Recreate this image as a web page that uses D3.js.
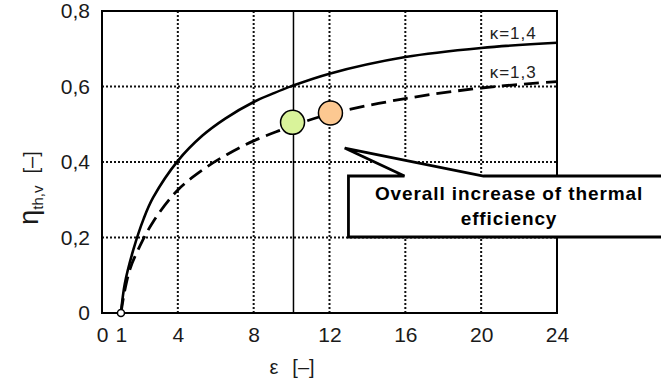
<!DOCTYPE html>
<html>
<head>
<meta charset="utf-8">
<script src="https://cdn.jsdelivr.net/npm/d3@7"></script>
<style>
  body { margin: 0; background: #fff; }
  svg { display: block; font-family: "Liberation Sans", Arial, sans-serif; }
</style>
</head>
<body>
<svg id="chart" width="661" height="383"></svg>
<script>
// compression ratio vs. thermal efficiency
const epsK14 = [1, 1.2, 1.65, 2.2, 2.7, 4, 5.3, 6.5, 8, 9, 10, 12, 16, 20, 24];
const etaK14 = [0, 0.077, 0.167, 0.25, 0.306, 0.403, 0.47, 0.515, 0.559, 0.581, 0.601, 0.634, 0.678, 0.702, 0.716];
const epsK13 = [1, 1.2, 1.5, 1.9, 2.7, 4, 5.3, 6.6, 8, 9.4, 10, 12, 16, 20, 24];
const etaK13 = [0, 0.06, 0.12, 0.167, 0.242, 0.326, 0.379, 0.42, 0.456, 0.484, 0.495, 0.527, 0.568, 0.596, 0.613];

const xTicks = [0, 1, 4, 8, 12, 16, 20, 24];
const xGrid = [4, 8, 12, 16, 20];
const yTicks = [0, 0.2, 0.4, 0.6, 0.8];
const yGrid = [0.2, 0.4, 0.6];

// highlighted operating points
const points = [
  { eps: 10.05, eta: 0.505, color: "#d9f39a" },
  { eps: 12.05, eta: 0.53, color: "#fcc891" }
];

const svg = d3.select("#chart");
const plotLeft = 102, plotRight = 557, plotTop = 11, plotBottom = 313;

const x = d3.scaleLinear().domain([0, 24]).range([plotLeft, plotRight]);
const y = d3.scaleLinear().domain([0, 0.8]).range([plotBottom, plotTop]);

// dotted grid
svg.append("g").selectAll("line")
  .data(xGrid)
  .enter().append("line")
  .attr("x1", d => x(d)).attr("x2", d => x(d))
  .attr("y1", plotTop).attr("y2", plotBottom)
  .attr("stroke", "#111").attr("stroke-width", 2)
  .attr("stroke-dasharray", "2,2");

svg.append("g").selectAll("line")
  .data(yGrid)
  .enter().append("line")
  .attr("x1", plotLeft).attr("x2", plotRight)
  .attr("y1", d => y(d)).attr("y2", d => y(d))
  .attr("stroke", "#111").attr("stroke-width", 2)
  .attr("stroke-dasharray", "2,2");

// solid marker line at eps = 10
svg.append("line")
  .attr("x1", x(10.1)).attr("x2", x(10.1))
  .attr("y1", plotTop).attr("y2", plotBottom)
  .attr("stroke", "#000").attr("stroke-width", 1.5);

// frame
svg.append("rect")
  .attr("x", plotLeft).attr("y", plotTop)
  .attr("width", plotRight - plotLeft).attr("height", plotBottom - plotTop)
  .attr("fill", "none").attr("stroke", "#000").attr("stroke-width", 2);

// axes labels (no tick marks in the original)
const xAxis = d3.axisBottom(x).tickValues(xTicks).tickSize(0).tickPadding(14);
svg.append("g")
  .attr("transform", "translate(0," + plotBottom + ")")
  .call(xAxis)
  .call(g => g.select(".domain").remove())
  .selectAll("text")
  .attr("font-size", 21).attr("font-family", "Liberation Sans, Arial, sans-serif")
  .attr("fill", "#1a1a1a");

const yAxis = d3.axisLeft(y).tickValues(yTicks).tickSize(0).tickPadding(12)
  .tickFormat(d => d === 0 ? "0" : d3.format(".1f")(d).replace(".", ","));
svg.append("g")
  .attr("transform", "translate(" + plotLeft + ",0)")
  .call(yAxis)
  .call(g => g.select(".domain").remove())
  .selectAll("text")
  .attr("font-size", 21).attr("font-family", "Liberation Sans, Arial, sans-serif")
  .attr("fill", "#1a1a1a");

// curves
const line = d3.line()
  .x(d => x(d[0]))
  .y(d => y(d[1]))
  .curve(d3.curveCatmullRom.alpha(0.5));

svg.append("path")
  .datum(d3.zip(epsK14, etaK14))
  .attr("d", line)
  .attr("fill", "none").attr("stroke", "#000").attr("stroke-width", 2.6);

svg.append("path")
  .datum(d3.zip(epsK13, etaK13))
  .attr("d", line)
  .attr("fill", "none").attr("stroke", "#000").attr("stroke-width", 2.8)
  .attr("stroke-dasharray", "15,7");

// open start point
svg.append("circle")
  .attr("cx", x(1)).attr("cy", y(0)).attr("r", 3.5)
  .attr("fill", "#fff").attr("stroke", "#000").attr("stroke-width", 1.5);

// curve labels
svg.append("text")
  .attr("x", x(20.45)).attr("y", y(0.726))
  .attr("font-size", 17).attr("letter-spacing", 1).attr("fill", "#222")
  .text("κ=1,4");
svg.append("text")
  .attr("x", x(20.45)).attr("y", y(0.622))
  .attr("font-size", 17).attr("letter-spacing", 1).attr("fill", "#222")
  .text("κ=1,3");

// callout box with pointer
const tipX = x(12.8), tipY = y(0.437);
const boxL = x(13.0), boxT = 176, boxB = 237, boxR = 668;
const callout = d3.path();
callout.moveTo(boxL, boxT);
callout.lineTo(boxL + 56, boxT);
callout.lineTo(tipX, tipY);
callout.lineTo(boxL + 135, boxT);
callout.lineTo(boxR, boxT);
callout.lineTo(boxR, boxB);
callout.lineTo(boxL, boxB);
callout.closePath();
svg.append("path")
  .attr("d", callout.toString())
  .attr("fill", "#fff").attr("stroke", "#000").attr("stroke-width", 2.8)
  .attr("stroke-linejoin", "miter");

svg.append("text")
  .attr("x", 509).attr("y", 200)
  .attr("text-anchor", "middle")
  .attr("font-size", 19).attr("font-weight", "bold").attr("letter-spacing", 0.9)
  .text("Overall increase of thermal");
svg.append("text")
  .attr("x", 509).attr("y", 225)
  .attr("text-anchor", "middle")
  .attr("font-size", 19).attr("font-weight", "bold").attr("letter-spacing", 0.9)
  .text("efficiency");

// highlighted points
svg.append("g").selectAll("circle")
  .data(points)
  .enter().append("circle")
  .attr("cx", d => x(d.eps)).attr("cy", d => y(d.eta)).attr("r", 12)
  .attr("fill", d => d.color).attr("stroke", "#000").attr("stroke-width", 1.5);

// axis titles
const xt = svg.append("text")
  .attr("x", 292).attr("y", 374)
  .attr("font-size", 20).attr("fill", "#1a1a1a")
  .attr("text-anchor", "middle");
xt.append("tspan").text("ε");
xt.append("tspan").attr("dx", 14).text("[–]");

const yt = svg.append("text")
  .attr("transform", "translate(38,188) rotate(-90)")
  .attr("text-anchor", "middle")
  .attr("fill", "#1a1a1a");
yt.append("tspan").attr("font-size", 27).text("η");
yt.append("tspan").attr("font-size", 15).attr("dy", 5).text("th,v");
yt.append("tspan").attr("font-size", 20).attr("dy", -5).attr("dx", 12).text("[–]");
</script>
</body>
</html>
